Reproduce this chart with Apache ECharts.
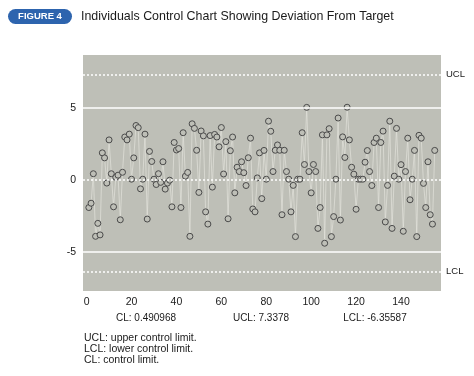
<!DOCTYPE html>
<html>
<head>
<meta charset="utf-8">
<script src="https://cdn.jsdelivr.net/npm/echarts@6/dist/echarts.min.js"></script>
<style>
  html, body { margin: 0; padding: 0; background: #fff; }
  #chart { width: 474px; height: 376px; }
</style>
</head>
<body>
<div id="chart"></div>
<script>
// deviation from target, observations 1..155
var deviation = [
  -1.9, -1.6, 0.45, -3.9, -3.0, -3.8, 1.9, 1.55, -0.2, 2.8,
  0.45, -1.85, 0.2, 0.35, -2.75, 0.55, 3.0, 2.8, 3.2, 0.07,
  1.55, 3.8, 3.65, -0.6, 0.07, 3.2, -2.7, 2.0, 1.3, 0.07,
  -0.3, 0.45, -0.15, 1.28, -0.62, -0.2, 0.0, -1.85, 2.62, 2.1,
  2.2, -1.9, 3.3, 0.28, 0.54, -3.9, 3.92, 3.6, 2.08, -0.85,
  3.42, 3.08, -2.2, -3.05, 3.1, -0.48, 3.18, 3.0, 2.32, 3.66,
  0.43, 2.68, -2.68, 2.05, 3.0, -0.88, 0.9, 0.6, 1.28, 0.52,
  -0.37, 1.56, 2.92, -2.0, -2.2, 0.16, 1.9, -1.28, 2.07, 0.07,
  4.1, 3.4, 0.6, 2.08, 2.45, 2.08, -2.4, 2.08, 0.6, 0.07,
  -2.2, -0.36, -3.92, 0.07, 0.07, 3.3, 1.09, 5.06, 0.6, -0.88,
  1.09, 0.6, -3.35, -1.9, 3.15, -4.38, 3.15, 3.58, -3.92, -2.53,
  0.07, 4.32, -2.77, 3.01, 1.58, 5.07, 2.8, 0.9, 0.42, -2.02,
  0.07, 0.07, 0.07, 1.25, 2.06, 0.6, -0.37, 2.62, 2.92, -1.9,
  2.62, 3.41, -2.9, -0.36, 4.1, -3.35, 0.28, 3.6, 0.07, 1.08,
  -3.55, 0.6, 2.92, -1.36, 0.07, 2.07, -3.92, 3.12, 2.92, -0.22,
  -1.9, 1.28, -2.4, -3.05, 2.07
];
var xTicks = [0, 20, 40, 60, 80, 100, 120, 140];
var yTicks = [-5, 0, 5];
var gridValues = [5, -5];
var target = 0;
var ucl = 7.3378;
var cl = 0.490968;
var lcl = -6.35587;
var notes = ["UCL: upper control limit.", "LCL: lower control limit.", "CL: control limit."];

var font = "'Liberation Sans', Arial, sans-serif";
var points = deviation.map(function(v, i) { return [i + 1, v]; });

var white = { color: "#ffffff", width: 1.5, type: "solid" };
var dots = { color: "#ffffff", width: 1.5, type: [2, 2] };

var guideLines = gridValues.map(function(v) {
  return { yAxis: v, lineStyle: white, label: { show: false } };
});
guideLines.push({ yAxis: target, lineStyle: dots, label: { show: false } });
guideLines.push({ yAxis: ucl, lineStyle: dots, label: { formatter: "UCL" } });
guideLines.push({ yAxis: lcl, lineStyle: dots, label: { formatter: "LCL" } });
guideLines.push({ yAxis: cl, lineStyle: { opacity: 0 }, label: { formatter: "CL" } });

function txt(x, y, s, size, align) {
  return {
    type: "text", x: x, y: y,
    style: { text: s, fill: "#1a1a1a", font: size + "px " + font, textAlign: align || "left", textVerticalAlign: "middle" }
  };
}

var chart = echarts.init(document.getElementById("chart"), null, { renderer: "canvas" });
var option = {
  animation: false,
  backgroundColor: "#ffffff",
  grid: {
    left: 83, right: 33, top: 55, bottom: 85,
    show: true, backgroundColor: "#bebfb7", borderWidth: 0
  },
  xAxis: {
    type: "value", min: -1.6, max: 157.8,
    axisLine: { show: false }, axisTick: { show: false }, splitLine: { show: false },
    axisLabel: { customValues: xTicks, color: "#1a1a1a", fontSize: 10.5, fontFamily: font, margin: 6 }
  },
  yAxis: {
    type: "value", min: -7.7, max: 8.7,
    axisLine: { show: false }, axisTick: { show: false }, splitLine: { show: false },
    axisLabel: { customValues: yTicks, color: "#1a1a1a", fontSize: 10.5, fontFamily: font, margin: 7 }
  },
  series: [
    {
      type: "line", data: [], z: 1, silent: true,
      markLine: {
        silent: true, symbol: "none", animation: false,
        label: { position: "end", distance: 5, color: "#1a1a1a", fontSize: 9.5, fontFamily: font },
        data: guideLines
      }
    },
    {
      type: "line", data: points, z: 2,
      symbol: "circle", symbolSize: 6, showSymbol: true,
      lineStyle: { color: "#e2e2db", width: 0.7 },
      itemStyle: { color: "#bebfb7", borderColor: "#4a4a4a", borderWidth: 1 }
    }
  ],
  graphic: [
    { type: "rect", shape: { x: 8, y: 9, width: 64, height: 15, r: 7.5 }, style: { fill: "#2d64ae" } },
    { type: "text", x: 40, y: 16.5, style: { text: "FIGURE 4", fill: "#ffffff", font: "bold 9.5px " + font, textAlign: "center", textVerticalAlign: "middle" } },
    {
      type: "text", x: 81, y: 16, scaleX: 0.92,
      style: { text: "Individuals Control Chart Showing Deviation From Target", fill: "#1a1a1a", font: "13.5px " + font, textVerticalAlign: "middle" }
    },
    txt(146, 318, "CL: " + cl, 10, "center"),
    txt(261, 318, "UCL: " + ucl, 10, "center"),
    txt(375, 318, "LCL: " + lcl, 10, "center"),
    txt(84, 338, notes[0], 10.5),
    txt(84, 349, notes[1], 10.5),
    txt(84, 360, notes[2], 10.5)
  ]
};
chart.setOption(option);
</script>
</body>
</html>
